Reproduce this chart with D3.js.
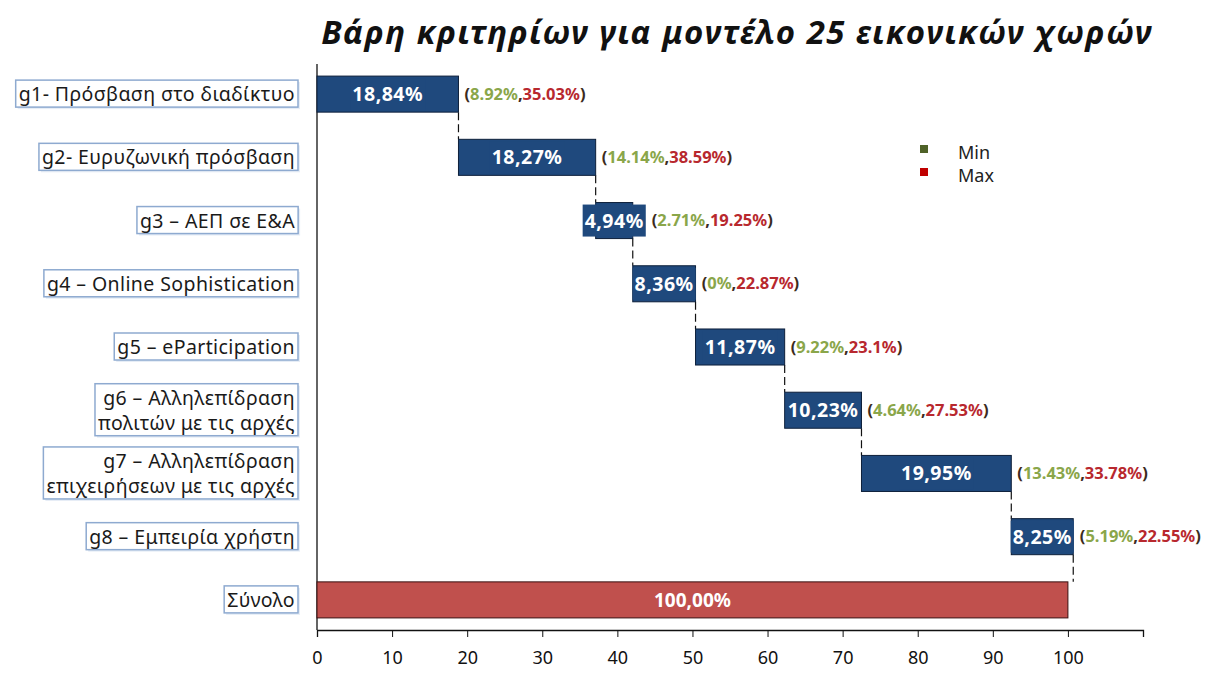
<!DOCTYPE html>
<html><head><meta charset="utf-8">
<script src="https://cdn.jsdelivr.net/npm/d3@7"></script>
<style>body{margin:0;background:#fff} svg{display:block}</style>
</head><body><svg id="c" width="1205" height="676"></svg>
<script>
const title = "Βάρη κριτηρίων για μοντέλο 25 εικονικών χωρών";
const categories = [
  "g1- Πρόσβαση στο διαδίκτυο",
  "g2- Ευρυζωνική πρόσβαση",
  "g3 – ΑΕΠ σε Ε&Α",
  "g4 – Online Sophistication",
  "g5 – eParticipation",
  "g6 – Αλληλεπίδραση\nπολιτών με τις αρχές",
  "g7 – Αλληλεπίδραση\nεπιχειρήσεων με τις αρχές",
  "g8 – Εμπειρία χρήστη",
  "Σύνολο"
];
const weights = [18.84, 18.27, 4.94, 8.36, 11.87, 10.23, 19.95, 8.25];
const totalValue = 100;
const weightLabels = ["18,84%","18,27%","4,94%","8,36%","11,87%","10,23%","19,95%","8,25%"];
const totalLabel = "100,00%";
const minLabels = ["8.92%","14.14%","2.71%","0%","9.22%","4.64%","13.43%","5.19%"];
const maxLabels = ["35.03%","38.59%","19.25%","22.87%","23.1%","27.53%","33.78%","22.55%"];
const xTicks = [0,10,20,30,40,50,60,70,80,90,100,110];
const xTickLabels = ["0","10","20","30","40","50","60","70","80","90","100",""];
const legendItems = ["Min","Max"];

const FONT = "'Noto Sans', 'Open Sans', sans-serif";
const BLUE = "#1f497d", RED = "#c0504d", MINC = "#8aa64a", MAXC = "#b8282e";

const svg = d3.select("#c");
const x = d3.scaleLinear().domain([0, 110]).range([317, 1143]);
const y = d3.scaleBand().domain(categories).range([62.5, 631.5]).paddingInner(0.43).paddingOuter(0.215);

let acc = 0;
const rows = weights.map((w, i) => { const r = {cat: categories[i], start: acc, end: acc + w, label: weightLabels[i], min: minLabels[i], max: maxLabels[i]}; acc += w; return r; });

// title
svg.append("text").attr("x", 737).attr("y", 44).attr("text-anchor", "middle")
  .attr("font-family", FONT).attr("font-weight", "bold").attr("font-style", "italic")
  .attr("font-size", 33).attr("letter-spacing", 1.4).attr("fill", "#111").text(title);

// x axis
const axisG = svg.append("g").attr("transform", "translate(0,630)")
  .call(d3.axisBottom(x).tickValues(xTicks).tickFormat((d, i) => xTickLabels[i]).tickSize(7).tickPadding(14));
axisG.select(".domain").attr("stroke", "#111").attr("stroke-width", 1.3);
axisG.selectAll(".tick line").attr("stroke", "#111");
axisG.selectAll(".tick text").attr("font-family", FONT).attr("font-size", 18).attr("fill", "#111");

svg.append("line").attr("x1", x(0)).attr("x2", x(0)).attr("y1", 64).attr("y2", 630)
  .attr("stroke", "#111").attr("stroke-width", 1.3);

const bh = y.bandwidth();

// connectors
rows.forEach((r, i) => {
  const nextTop = i < rows.length - 1 ? y(rows[i+1].cat) : y(categories[8]);
  svg.append("line").attr("x1", x(r.end)).attr("x2", x(r.end))
    .attr("y1", y(r.cat) + bh).attr("y2", nextTop)
    .attr("stroke", "#111").attr("stroke-width", 1.2).attr("stroke-dasharray", "8,4");
});

// blue bars
svg.selectAll("rect.bar").data(rows).enter().append("rect").attr("class", "bar")
  .attr("x", d => x(d.start)).attr("y", d => y(d.cat))
  .attr("width", d => x(d.end) - x(d.start)).attr("height", bh)
  .attr("fill", BLUE).attr("stroke", "#0d1f3a").attr("stroke-width", 1);

// total bar
svg.append("rect").attr("x", x(0)).attr("y", y(categories[8]))
  .attr("width", x(totalValue) - x(0)).attr("height", bh)
  .attr("fill", RED).attr("stroke", "#3a1010").attr("stroke-width", 1);
svg.append("text").attr("x", (x(0) + x(totalValue)) / 2).attr("y", y(categories[8]) + bh/2 + 7)
  .attr("text-anchor", "middle").attr("font-family", FONT).attr("font-weight", "bold")
  .attr("font-size", 19).attr("fill", "#fff").text(totalLabel);

// bar labels + annotations
rows.forEach(r => {
  const cx = (x(r.start) + x(r.end)) / 2, cy = y(r.cat) + bh / 2;
  const g = svg.append("g");
  const t = g.append("text").attr("x", cx).attr("y", cy + 7).attr("text-anchor", "middle")
    .attr("font-family", FONT).attr("font-weight", "bold").attr("font-size", 19.5)
    .attr("letter-spacing", 0.5).attr("fill", "#fff").text(r.label);
  const bb = t.node().getBBox();
  const bw = bb.width + 4;
  g.insert("rect", "text").attr("x", cx - bw/2).attr("y", cy - 16).attr("width", bw).attr("height", 32).attr("fill", BLUE);
  const right = Math.max(x(r.end), cx + bw/2) + 6;
  const a = svg.append("text").attr("x", right).attr("y", cy + 5.5)
    .attr("font-family", FONT).attr("font-weight", "bold").attr("font-size", 16.5);
  a.append("tspan").attr("fill", "#3b2a20").text("(");
  a.append("tspan").attr("fill", MINC).text(r.min);
  a.append("tspan").attr("fill", "#3b2a20").text(",");
  a.append("tspan").attr("fill", MAXC).text(r.max);
  a.append("tspan").attr("fill", "#3b2a20").text(")");
});

// category label boxes
categories.forEach(c => {
  const lines = c.split("\n");
  const cy = y(c) + bh / 2;
  const g = svg.append("g");
  const lh = 25;
  const t = g.append("text").attr("text-anchor", "end").attr("font-family", FONT)
    .attr("font-size", 19.5).attr("letter-spacing", 0.4).attr("fill", "#1a1a1a");
  lines.forEach((l, i) => {
    t.append("tspan").attr("x", 295).attr("y", cy + 7 + (i - (lines.length - 1) / 2) * lh).text(l);
  });
  const bb = t.node().getBBox();
  g.insert("rect", "text").attr("x", bb.x - 3).attr("y", bb.y)
    .attr("width", bb.width + 6).attr("height", bb.height)
    .attr("fill", "#fff").attr("stroke", "#8eaad0").attr("stroke-width", 1.5);
  g.insert("rect", "rect").attr("x", bb.x - 1).attr("y", bb.y + 2)
    .attr("width", bb.width + 6).attr("height", bb.height)
    .attr("fill", "#e6edf6");
});

// legend
const legColors = [ "#4f6228", "#c00000" ];
legendItems.forEach((l, i) => {
  svg.append("rect").attr("x", 920).attr("y", 145 + i * 23).attr("width", 8).attr("height", 8).attr("fill", legColors[i]);
  svg.append("text").attr("x", 958).attr("y", 159 + i * 23).attr("font-family", FONT)
    .attr("font-size", 18).attr("fill", "#222").text(l);
});
</script>
</body></html>
